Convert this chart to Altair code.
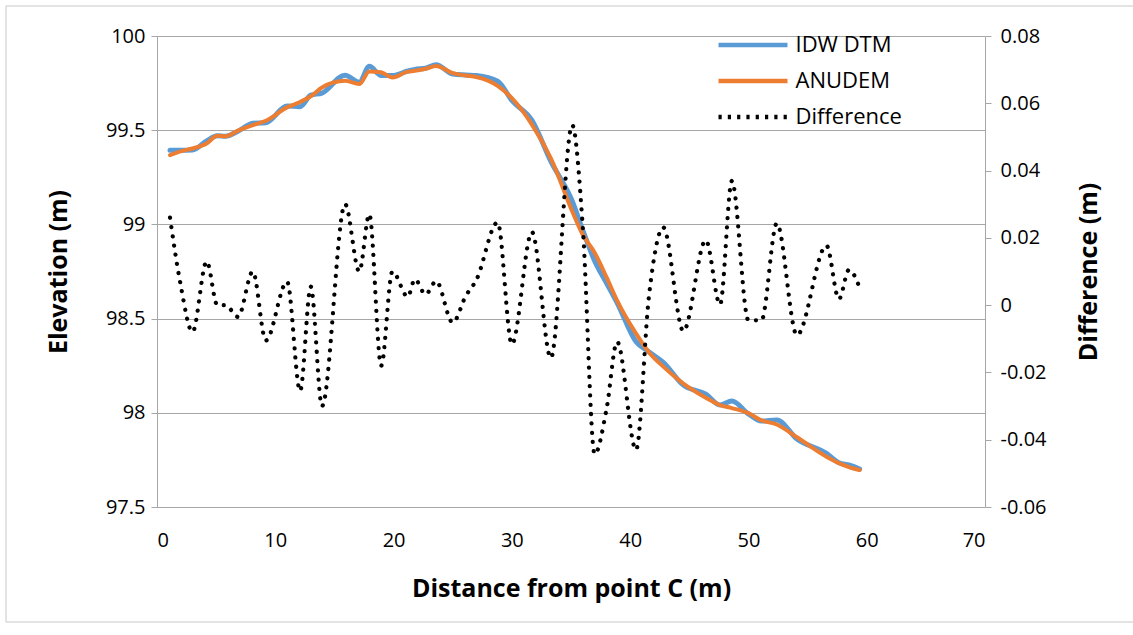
import altair as alt
import pandas as pd

# Distance from point C (m)
dist = [1.1, 2.0, 3.0, 4.2, 5.1, 5.8, 6.85, 8.1, 9.2,
        11.0, 12.1, 13.0, 13.95, 15.9, 17.1, 17.95, 18.95, 19.9,
        21.2, 21.8, 22.7, 23.6, 25.0, 26.1, 27.0, 28.8, 30.0,
        31.7, 33.3, 35.1, 36.0, 37.0, 38.0, 38.9, 40.5, 41.6,
        42.8, 44.5, 46.4, 47.6, 48.6, 50.0, 51.1, 52.4, 54.1,
        56.6, 57.65, 58.5, 59.4]

# Elevation (m)
idw_dtm = [99.394, 99.394, 99.395, 99.443, 99.470, 99.468, 99.495, 99.537, 99.540,
           99.628, 99.625, 99.686, 99.697, 99.792, 99.755, 99.839, 99.790, 99.790,
           99.814, 99.823, 99.829, 99.848, 99.798, 99.793, 99.790, 99.760, 99.658,
           99.552, 99.334, 99.124, 98.968, 98.806, 98.689, 98.584, 98.377, 98.323,
           98.268, 98.147, 98.099, 98.041, 98.062, 97.994, 97.956, 97.962, 97.861,
           97.785, 97.735, 97.723, 97.701]

anudem = [99.368, 99.388, 99.403, 99.430, 99.470, 99.468, 99.498, 99.527, 99.550,
          99.621, 99.650, 99.680, 99.727, 99.762, 99.745, 99.812, 99.808, 99.780,
          99.811, 99.815, 99.826, 99.841, 99.803, 99.790, 99.782, 99.735, 99.670,
          99.530, 99.350, 99.070, 98.945, 98.850, 98.720, 98.595, 98.420, 98.320,
          98.245, 98.155, 98.080, 98.041, 98.025, 97.998, 97.960, 97.938, 97.870,
          97.767, 97.733, 97.712, 97.696]

# Difference (m)
difference = [0.026, 0.006, -0.008, 0.013, 0.000, 0.000, -0.0035, 0.010, -0.0105,
              0.007, -0.0255, 0.0055, -0.030, 0.030, 0.010, 0.027, -0.018, 0.010,
              0.0025, 0.0077, 0.0032, 0.0071, -0.0052, 0.0027, 0.0075, 0.0246, -0.0116,
              0.0217, -0.0157, 0.0535, 0.023, -0.0443, -0.031, -0.0109, -0.043, 0.003,
              0.0231, -0.0077, 0.0193, 0.0002, 0.0369, -0.0045, -0.0045, 0.0243, -0.0089,
              0.0177, 0.0018, 0.0105, 0.0052]

series_names = ["IDW DTM", "ANUDEM", "Difference"]
series_colors = ["#5b9bd5", "#ed7d31", "#000000"]
legend_dash = [[1, 0], [1, 0], [3.2, 6.1]]

left_ticks = [97.5, 98.0, 98.5, 99.0, 99.5, 100.0]
right_ticks = [-0.06, -0.04, -0.02, 0.0, 0.02, 0.04, 0.06, 0.08]
x_ticks = [0, 10, 20, 30, 40, 50, 60, 70]

FONT = "Open Sans"
GRID = "#a6a6a6"

idw_df = pd.DataFrame({"dist": dist, "value": idw_dtm, "series": "IDW DTM"})
anu_df = pd.DataFrame({"dist": dist, "value": anudem, "series": "ANUDEM"})
diff_df = pd.DataFrame({"dist": dist, "value": difference, "series": "Difference"})

legend = alt.Legend(
    title=None, orient="none", legendX=578.5, legendY=-8.5,
    symbolType="M-2.3,0L2.3,0", symbolSize=900, symbolStrokeWidth=4.5,
    labelFont=FONT, labelFontSize=22, labelColor="#000000", labelOffset=25,
    rowPadding=7, padding=0,
)
color = alt.Color("series:N", scale=alt.Scale(domain=series_names, range=series_colors), legend=legend)
dash = alt.StrokeDash("series:N", scale=alt.Scale(domain=series_names, range=legend_dash), legend=legend)

x_enc = alt.X(
    "dist:Q",
    scale=alt.Scale(domain=[0, 70], nice=False, zero=False),
    axis=alt.Axis(
        title="Distance from point C (m)", values=x_ticks, format="d",
        grid=False, ticks=False, tickSize=0, labelPadding=23,
        domainColor=GRID, titleY=81, titleBaseline="middle",
    ),
)

y_left = alt.Y(
    "value:Q",
    scale=alt.Scale(domain=[97.5, 100], nice=False, zero=False),
    axis=alt.Axis(
        title="Elevation (m)", orient="left", values=left_ticks, format="~g",
        grid=True, gridColor=GRID, gridWidth=1, domainColor=GRID,
        tickColor=GRID, tickSize=6, labelPadding=6,
        titleAngle=270, titleX=-99, titleY=235.5, titleBaseline="middle", titleAlign="center",
    ),
)

y_right = alt.Y(
    "value:Q",
    scale=alt.Scale(domain=[-0.06, 0.08], nice=False, zero=False),
    axis=alt.Axis(
        title="Difference (m)", orient="right", values=right_ticks,
        labelExpr="replace(format(datum.value, '~g'), '\u2212', '-')",
        grid=False, domainColor=GRID, tickColor=GRID, tickSize=6, labelPadding=9,
        titleAngle=270, titleX=103, titleY=235.5, titleBaseline="middle", titleAlign="center",
    ),
)

frame = alt.Chart(alt.Data(values=[{"k": 1}])).mark_rect(
    filled=False, stroke="#c8c8c8", strokeWidth=1
).encode(
    x=alt.value(-151), x2=alt.value(990), y=alt.value(-30), y2=alt.value(586)
)

idw_line = alt.Chart(idw_df).mark_line(strokeWidth=5, interpolate="monotone", strokeCap="round").encode(
    x=x_enc, y=y_left, color=color
)
anu_line = alt.Chart(anu_df).mark_line(strokeWidth=4, interpolate="monotone", strokeCap="round").encode(
    x=x_enc, y=y_left, color=color
)
# legend carrier: no rows drawn, supplies the dash pattern to the legend symbols
legend_carrier = alt.Chart(idw_df).transform_filter("false").mark_line().encode(
    x=x_enc, y=y_left, color=color, strokeDash=dash
)
diff_line = alt.Chart(diff_df).mark_line(
    strokeWidth=4.2, interpolate="monotone", strokeCap="round", strokeDash=[0.1, 9.2]
).encode(
    x=x_enc, y=y_right, color=color
)

left_layer = alt.layer(frame, idw_line, anu_line, legend_carrier)

chart = alt.layer(left_layer, diff_line).resolve_scale(
    y="independent"
).properties(
    width=828, height=471,
    autosize=alt.AutoSizeParams(type="none"),
    padding={"left": 157, "top": 36, "right": 148, "bottom": 128},
    background="white",
).configure_view(
    stroke=None
).configure_axis(
    labelFont=FONT, labelFontSize=20, labelColor="#000000",
    titleFont=FONT, titleFontSize=25, titleFontWeight="bold", titleColor="#000000",
)

chart.save("out.html", embed_options={"renderer": "svg", "actions": False})
